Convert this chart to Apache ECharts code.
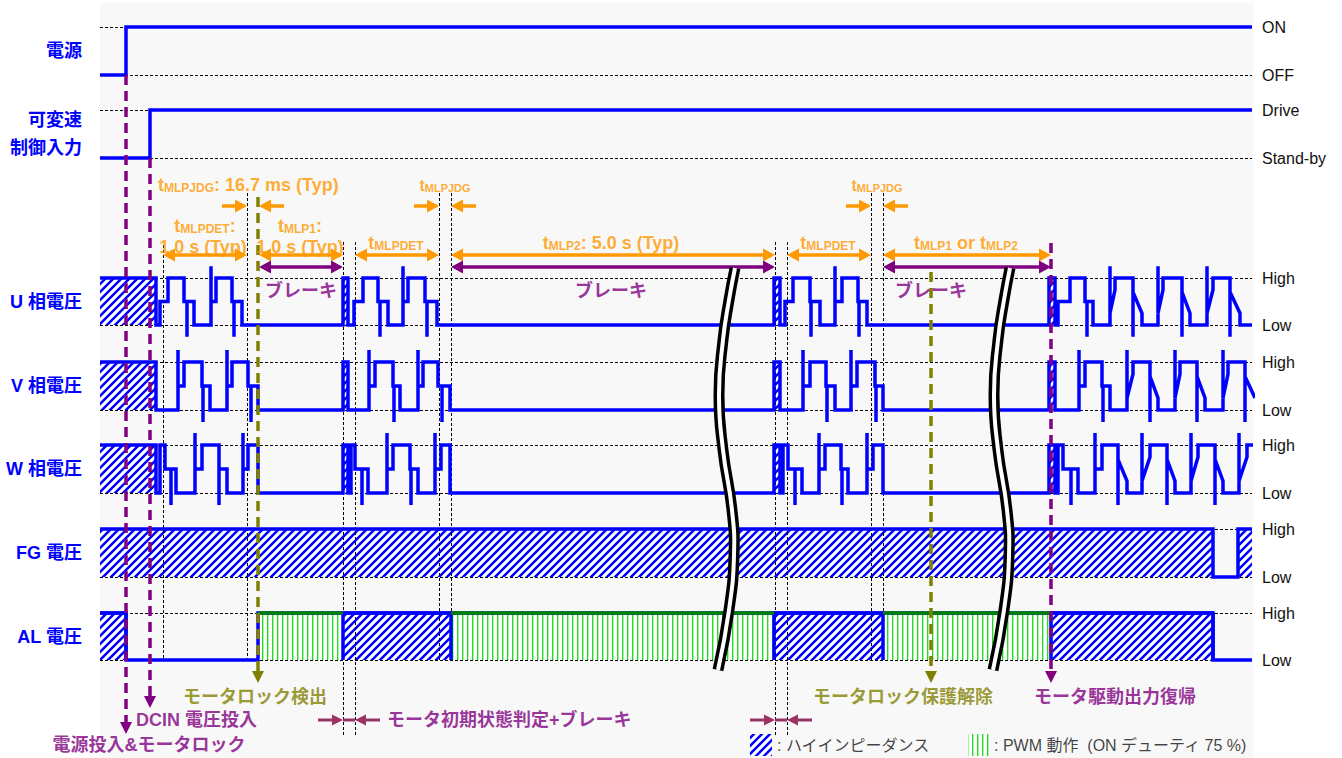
<!DOCTYPE html>
<html><head><meta charset="utf-8">
<script src="https://cdn.jsdelivr.net/npm/echarts@6/dist/echarts.min.js"></script>
<style>html,body{margin:0;padding:0;background:#fff}#chart{width:1342px;height:758px}</style>
</head><body><div id="chart"></div>
<script>
// ======================= DATA =======================
// time axis in diagram units (arbitrary)
const X_MIN = 100, X_MAX = 1252;

const rowNames = ['電源', '可変速\n制御入力', 'U 相電圧', 'V 相電圧', 'W 相電圧', 'FG 電圧', 'AL 電圧'];
const levelNames = [['OFF', 'ON'], ['Stand-by', 'Drive'], ['Low', 'High'], ['Low', 'High'], ['Low', 'High'], ['Low', 'High'], ['Low', 'High']];

// levels: 0 = low, 1 = high, 0.5 = intermediate step, 1.25 / -0.25 = spikes
const powerWave = [[100,0],[126,0],[126,1],[1252,1]];
const speedWave = [[100,0],[150,0],[150,1],[1252,1]];

const uWave = [
[100,1],[156,1],[156,0],[160,0],[160,0.5],[168,0.5],[168,1],[184,1],[184,0.5],[187,0.5],[187,-0.25],[187,0.5],[194,0.5],[194,0],
[211,0],[211,1.25],[211,0.5],[216,0.5],[216,1],[232,1],[232,0.5],[234,0.5],[234,-0.25],[234,0.5],[242,0.5],[242,0],
[343,0],[343,1],[348,1],[348,0],[354,0],[354,0.5],[363,0.5],[363,1],[378,1],[378,0.5],[380,0.5],[380,-0.25],[380,0.5],[388,0.5],[388,0],
[403,0],[403,1.25],[403,0.5],[408,0.5],[408,1],[425,1],[425,0.5],[427,0.5],[427,-0.25],[427,0.5],[437,0.5],[437,0],
[774,0],[774,1],[780,1],[780,0],[785,0],[785,0.5],[793,0.5],[793,1],[810,1],[810,0.5],[811,0.5],[811,-0.25],[811,0.5],[820,0.5],[820,0],
[835,0],[835,1.25],[835,0.5],[842,0.5],[842,1],[858,1],[858,0.5],[859,0.5],[859,-0.25],[859,0.5],[867,0.5],[867,0],
[1049,0],[1049,1],[1055,1],[1055,0],[1058,0],[1058,0.5],[1070,0.5],[1070,1],[1085,1],[1085,0.5],[1087,0.5],[1087,-0.25],[1087,0.5],[1093,0.5],[1093,0],
[1110,0],[1110,1.25],[1110,0.25],[1115,0.75],[1115,1],[1133,1],[1133,-0.25],[1133,0.7],[1142,0.25],[1142,0],
[1158,0],[1158,1.25],[1158,0.25],[1163,0.75],[1163,1],[1182,1],[1182,-0.25],[1182,0.7],[1190,0.25],[1190,0],
[1207,0],[1207,1.25],[1207,0.25],[1213,0.75],[1213,1],[1230,1],[1230,-0.25],[1230,0.7],[1240,0.25],[1240,0],[1252,0]
];

const vWave = [
[100,1],[156,1],[156,0],
[178,0],[178,1.25],[178,0.5],[184,0.5],[184,1],[202,1],[202,0.5],[203,0.5],[203,-0.25],[203,0.5],[210,0.5],[210,0],
[227,0],[227,1.25],[227,0.5],[232,0.5],[232,1],[248,1],[248,0.5],[251,0.5],[251,-0.25],[251,0.5],[258,0.5],[258,0],
[343,0],[343,1],[348,1],[348,0],
[369,0],[369,1.25],[369,0.5],[375,0.5],[375,1],[393,1],[393,0.5],[394,0.5],[394,-0.25],[394,0.5],[400,0.5],[400,0],
[418,0],[418,1.25],[418,0.5],[423,0.5],[423,1],[438,1],[438,0.5],[442,0.5],[442,-0.25],[442,0.5],[450,0.5],[450,0],
[774,0],[774,1],[780,1],[780,0],
[803,0],[803,1.25],[803,0.5],[810,0.5],[810,1],[826,1],[826,0.5],[827,0.5],[827,-0.25],[827,0.5],[835,0.5],[835,0],
[851,0],[851,1.25],[851,0.5],[857,0.5],[857,1],[875,1],[875,0.5],[876,0.5],[876,-0.25],[876,0.5],[883,0.5],[883,0],
[1049,0],[1049,1],[1055,1],[1055,0],
[1079,0],[1079,1.25],[1079,0.5],[1085,0.5],[1085,1],[1102,1],[1102,0.5],[1103,0.5],[1103,-0.25],[1103,0.5],[1110,0.5],[1110,0],
[1127,0],[1127,1.25],[1127,0.25],[1133,0.75],[1133,1],[1150,1],[1150,-0.25],[1150,0.7],[1158,0.25],[1158,0],
[1175,0],[1175,1.25],[1175,0.25],[1180,0.75],[1180,1],[1197,1],[1197,-0.25],[1197,0.7],[1205,0.25],[1205,0],
[1223,0],[1223,1.25],[1223,0.25],[1228,0.75],[1228,1],[1245,1],[1245,-0.25],[1245,0.7],[1255,0.25]
];

const wWave = [
[100,1],[156,1],[156,0],[160,0],[160,1],[165,1],[165,0.5],[171,0.5],[171,-0.25],[171,0.5],[176,0.5],[176,0],
[195,0],[195,1.25],[195,0.5],[202,0.5],[202,1],[219,1],[219,-0.25],[219,0.5],[227,0.5],[227,0],
[243,0],[243,1.25],[243,0.5],[248,0.5],[248,1],[258,1],[258,0],
[343,0],[343,1],[348,1],[348,0],[351,0],[351,1],[355,1],[355,0.5],[362,0.5],[362,-0.25],[362,0.5],[368,0.5],[368,0],
[387,0],[387,1.25],[387,0.5],[393,0.5],[393,1],[410,1],[410,0.5],[411,0.5],[411,-0.25],[411,0.5],[418,0.5],[418,0],
[435,0],[435,1.25],[435,0.5],[441,0.5],[441,1],[450,1],[450,0],
[774,0],[774,1],[780,1],[780,0],[783,0],[783,1],[788,1],[788,0.5],[795,0.5],[795,-0.25],[795,0.5],[802,0.5],[802,0],
[819,0],[819,1.25],[819,0.5],[825,0.5],[825,1],[841,1],[841,0.5],[842,0.5],[842,-0.25],[842,0.5],[848,0.5],[848,0],
[867,0],[867,1.25],[867,0.5],[873,0.5],[873,1],[883,1],[883,0],
[1049,0],[1049,1],[1055,1],[1055,0],[1058,0],[1058,1],[1063,1],[1063,0.5],[1071,0.5],[1071,-0.25],[1071,0.5],[1078,0.5],[1078,0],
[1095,0],[1095,1.25],[1095,0.5],[1102,0.5],[1102,1],[1118,1],[1118,-0.25],[1118,0.7],[1127,0.25],[1127,0],
[1142,0],[1142,1.25],[1142,0.25],[1150,0.75],[1150,1],[1167,1],[1167,-0.25],[1167,0.7],[1175,0.25],[1175,0],
[1191,0],[1191,1.25],[1191,0.25],[1198,0.75],[1198,1],[1215,1],[1215,-0.25],[1215,0.7],[1223,0.25],[1223,0],
[1239,0],[1239,1.25],[1239,0.25],[1247,0.75],[1247,1],[1253,1]
];

const fgWave = [[100,1],[1213,1],[1213,0],[1238,0],[1238,1],[1252,1]];
const alWave = [[100,1],[126,1],[126,0],[258,0],[258,1],[1213,1],[1213,0],[1252,0]];

// high-impedance (hatched) and PWM intervals
const phaseHiZ = [[100,156],[343,348],[774,780],[1049,1055]];
const fgHiZ = [[100,1213],[1238,1252]];
const alHiZ = [[100,126],[343,451],[774,883],[1051,1213]];
const alPwm = [[258,343],[451,774],[883,1051]];

// timing events
const guideTimes = [163,247,343,355,439,451,775,787,871,883];
const purpleEvents = [126,150,1051];
const oliveEvents = [258,931];
const detSpans = [[163,247],[259,343],[355,439],[451,775],[787,871],[883,1051]];   // orange double arrows
const brakeSpans = [[259,343],[451,775],[883,1051]];                                // purple double arrows
const jdgWindows = [[247,259],[439,451],[871,883]];                                 // tMLPJDG
const initWindows = [[343,355],[775,787]];                                          // 初期状態判定
const breakTimes = [726,1001];

// texts (anchor time, content)
const orangeTexts = [
  {t:158, txt:'{t|t}{s|MLPJDG}{t|: 16.7 ms (Typ)}', align:'left', row:'jdg'},
  {t:205, txt:'{t|t}{s|MLPDET}{t|:}', row:'l1'},
  {t:203, txt:'{t|1.0 s (Typ)}', row:'l2'},
  {t:300, txt:'{t|t}{s|MLP1}{t|:}', row:'l1'},
  {t:300, txt:'{t|1.0 s (Typ)}', row:'l2'},
  {t:396, txt:'{t|t}{s|MLPDET}', row:'lab'},
  {t:445, txt:'{u|t}{v|MLPJDG}', row:'jdg'},
  {t:611, txt:'{t|t}{s|MLP2}{t|: 5.0 s (Typ)}', row:'lab'},
  {t:828, txt:'{t|t}{s|MLPDET}', row:'lab'},
  {t:877, txt:'{u|t}{v|MLPJDG}', row:'jdg'},
  {t:966, txt:'{t|t}{s|MLP1}{t| or t}{s|MLP2}', row:'lab'}
];
const brakeTexts = [{t:301, txt:'ブレーキ'},{t:611, txt:'ブレーキ'},{t:931, txt:'ブレーキ'}];
const eventTexts = [
  {t:149, txt:'電源投入&モータロック', c:'purple', align:'center', row:'b3'},
  {t:136, txt:'DCIN 電圧投入', c:'purple', row:'b2'},
  {t:183, txt:'モータロック検出', c:'olive', row:'b1'},
  {t:387, txt:'モータ初期状態判定+ブレーキ', c:'purple', row:'b2'},
  {t:813, txt:'モータロック保護解除', c:'olive', row:'b1'},
  {t:1034, txt:'モータ駆動出力復帰', c:'purple', row:'b1'}
];
const legendTexts = [{t:777, txt:': ハイインピーダンス'},{t:994, txt:': PWM 動作  (ON デューティ 75 %)'}];

// ======================= LAYOUT / STYLE =======================
const FONT = "'Liberation Sans','Noto Sans CJK JP',sans-serif";
const BLUE = '#0000ff', ORANGE = '#ff9900', PURPLE = '#800080', OLIVE = '#808000', MAROON = '#993366', DKGREEN = '#008000';
const rowsLayout = [
  {top:27,bottom:75},{top:110,bottom:158},{top:278,bottom:325},{top:362,bottom:410},
  {top:445,bottom:493},{top:529,bottom:577},{top:613,bottom:660}];
const LY = {
  jdg:206, det:255, brake:267, init:720, brakeText:291,
  text:{jdg:185, l1:226, l2:247, lab:243, b1:697, b2:720, b3:745, leg:745},
  guideTop:[245,193,242,242,193,193,242,242,193,193],
  guideBottom:[660,660,735,735,660,660,735,735,660,660],
  purpleTop:[75,158,243], purpleTip:[734,708,683],
  oliveTop:[197,272], oliveTip:[683,683],
  inwardLen:25,
  breakShape:[[9,268],[3,300],[-3,340],[-7,395],[-3,450],[6,510],[8,555],[3,610],[-8,670]],
  legendBoxes:[[750,772,734,756,0],[968,990,734,756,1]]
};

function hatchCanvas(){
  const c=document.createElement('canvas'); c.width=8; c.height=8;
  const g=c.getContext('2d'); g.fillStyle='#fff'; g.fillRect(0,0,8,8);
  g.strokeStyle=BLUE; g.lineWidth=2.5;
  g.beginPath(); g.moveTo(-4,12); g.lineTo(12,-4); g.moveTo(-4,4); g.lineTo(4,-4); g.moveTo(4,12); g.lineTo(12,4); g.stroke();
  return c;
}
function pwmCanvas(){
  const c=document.createElement('canvas'); c.width=5; c.height=5;
  const g=c.getContext('2d'); g.fillStyle='#fff'; g.fillRect(0,0,5,5);
  g.fillStyle='#22dd22'; g.fillRect(2,0,1,5);
  g.fillStyle='#aaf0aa'; g.fillRect(3,0,1,5);
  return c;
}
const HATCH = {image:hatchCanvas(), repeat:'repeat'};
const PWM = {image:pwmCanvas(), repeat:'repeat'};

const chart = echarts.init(document.getElementById('chart'), null, {renderer:'svg', width:1342, height:758});

const grids=[], xAxes=[], yAxes=[], series=[];
const waves = [powerWave, speedWave, uWave, vWave, wWave, fgWave, alWave];

rowsLayout.forEach((r,i)=>{
  grids.push({left:100, right:90, top:r.top, height:r.bottom-r.top, outerBoundsMode:'none', containLabel:false});
  xAxes.push({type:'value', gridIndex:i, min:X_MIN, max:X_MAX, show:false});
  yAxes.push({type:'value', gridIndex:i, position:'right', min:0, max:1, interval:1,
    axisLine:{show:false}, axisTick:{show:false},
    axisLabel:{formatter:v=>levelNames[i][v>=0.5?1:0], color:'#111', fontSize:16, fontFamily:FONT, margin:10, showMinLabel:true, showMaxLabel:true},
    splitLine:{show:true, lineStyle:{color:'#000', width:1, type:[3,2]}}});
  yAxes.push({type:'value', gridIndex:i, position:'left', min:0, max:1,
    axisLine:{show:false}, axisTick:{show:false}, axisLabel:{show:false}, splitLine:{show:false},
    name:rowNames[i], nameLocation:'middle', nameGap:18, nameRotate:0, nameMoveOverlap:false,
    nameTextStyle:{color:BLUE, fontWeight:'bold', fontSize:18, fontFamily:FONT, align:'right', verticalAlign:'middle', lineHeight:28}});
});
// overlay grid for annotations
grids.push({left:100, right:90, top:0, bottom:0, outerBoundsMode:'none', containLabel:false});
xAxes.push({type:'value', gridIndex:7, min:X_MIN, max:X_MAX, show:false});
yAxes.push({type:'value', gridIndex:7, min:0, max:758, inverse:true, show:false});
const OX = 7, OY = 14;

// ---------- region fills ----------
function fillSeries(row, data, fill, z){
  return {type:'custom', xAxisIndex:row, yAxisIndex:row*2, z:z||1, silent:true, data:data,
    renderItem:(p,api)=>{
      const a=api.coord([api.value(0),1]), b=api.coord([api.value(1),0]);
      return {type:'rect', shape:{x:a[0], y:a[1], width:b[0]-a[0], height:b[1]-a[1]}, style:{fill:fill}};
    }};
}
[2,3,4].forEach(r=>series.push(fillSeries(r, phaseHiZ, HATCH)));
series.push(fillSeries(5, fgHiZ, HATCH));
series.push(fillSeries(6, alHiZ, HATCH));
series.push(fillSeries(6, alPwm, PWM));

// ---------- signal lines ----------
waves.forEach((w,i)=>{
  series.push({type:'line', xAxisIndex:i, yAxisIndex:i*2, data:w, z:3, clip:false, symbol:'none', silent:true,
    lineStyle:{color:BLUE, width:3.5, cap:'butt', join:'miter'}});
});

// AL region edges (blue for hi-Z, green top for PWM)
series.push({type:'custom', xAxisIndex:6, yAxisIndex:12, z:4, silent:true,
  data: alHiZ.map(s=>[s[0],s[1],0]).concat(alPwm.map(s=>[s[0],s[1],1])),
  renderItem:(p,api)=>{
    const t1=api.value(0), t2=api.value(1), k=api.value(2);
    const a=api.coord([t1,1]), b=api.coord([t2,0]);
    const ch=[];
    if(k===1){
      ch.push({type:'line', shape:{x1:a[0],y1:a[1],x2:b[0],y2:a[1]}, style:{stroke:DKGREEN,lineWidth:3.5}});
    } else {
      ch.push({type:'line', shape:{x1:a[0],y1:a[1],x2:b[0],y2:a[1]}, style:{stroke:BLUE,lineWidth:3.5}});
      if(t1>X_MIN) ch.push({type:'line', shape:{x1:a[0],y1:a[1],x2:a[0],y2:b[1]}, style:{stroke:BLUE,lineWidth:3.5}});
      ch.push({type:'line', shape:{x1:b[0],y1:a[1],x2:b[0],y2:b[1]}, style:{stroke:BLUE,lineWidth:3.5}});
    }
    return {type:'group', children:ch};
  }});

// ---------- guides ----------
series.push({type:'custom', xAxisIndex:OX, yAxisIndex:OY, z:2, silent:true,
  data: guideTimes.map((t,i)=>[t, LY.guideTop[i], LY.guideBottom[i]]),
  renderItem:(p,api)=>{
    const a=api.coord([api.value(0),api.value(1)]), b=api.coord([api.value(0),api.value(2)]);
    const x=Math.round(a[0])+0.5;
    return {type:'line', shape:{x1:x,y1:a[1],x2:x,y2:b[1]}, style:{stroke:'#000',lineWidth:1,lineDash:[3,2]}};
  }});

// ---------- event markers ----------
function markerSeries(times, tops, tips, color){
  return {type:'custom', xAxisIndex:OX, yAxisIndex:OY, z:5, silent:true,
    data: times.map((t,i)=>[t, tops[i], tips[i]]),
    renderItem:(p,api)=>{
      const a=api.coord([api.value(0),api.value(1)]), b=api.coord([api.value(0),api.value(2)]);
      const x=a[0];
      return {type:'group', children:[
        {type:'line', shape:{x1:x,y1:a[1],x2:x,y2:b[1]-10}, style:{stroke:color,lineWidth:3.5,lineDash:[10,6]}},
        {type:'polygon', shape:{points:[[x,b[1]],[x-6,b[1]-12],[x+6,b[1]-12]]}, style:{fill:color}}
      ]};
    }};
}
series.push(markerSeries(purpleEvents, LY.purpleTop, LY.purpleTip, PURPLE));
series.push(markerSeries(oliveEvents, LY.oliveTop, LY.oliveTip, OLIVE));

// ---------- arrows ----------
function arrowSeries(data, color, lw, hl, hw){
  return {type:'custom', xAxisIndex:OX, yAxisIndex:OY, z:5, silent:true, data:data,
    renderItem:(p,api)=>{
      const p1=api.coord([api.value(0),api.value(2)]), p2=api.coord([api.value(1),api.value(2)]);
      const hs=api.value(3), he=api.value(4);
      const d=(p2[0]>=p1[0])?1:-1, y=p1[1];
      const ch=[{type:'line', shape:{x1:p1[0]+(hs?d*hl*0.8:0), y1:y, x2:p2[0]-(he?d*hl*0.8:0), y2:y}, style:{stroke:color,lineWidth:lw}}];
      if(he) ch.push({type:'polygon', shape:{points:[[p2[0],y],[p2[0]-d*hl,y-hw],[p2[0]-d*hl,y+hw]]}, style:{fill:color}});
      if(hs) ch.push({type:'polygon', shape:{points:[[p1[0],y],[p1[0]+d*hl,y-hw],[p1[0]+d*hl,y+hw]]}, style:{fill:color}});
      return {type:'group', children:ch};
    }};
}
const orangeArrows = detSpans.map(s=>[s[0],s[1],LY.det,1,1])
  .concat(jdgWindows.flatMap(s=>[[s[0]-LY.inwardLen,s[0],LY.jdg,0,1],[s[1]+LY.inwardLen,s[1],LY.jdg,0,1]]));
series.push(arrowSeries(orangeArrows, ORANGE, 3.5, 12, 6.5));
series.push(arrowSeries(brakeSpans.map(s=>[s[0],s[1],LY.brake,1,1]), PURPLE, 3.5, 12, 6.5));
const initArrows = initWindows.flatMap(s=>[[s[0]-LY.inwardLen,s[0],LY.init,0,1],[s[1]+LY.inwardLen,s[1],LY.init,0,1],[s[0],s[1],LY.init,0,0]]);
series.push(arrowSeries(initArrows, MAROON, 3, 11, 5.5));

// ---------- break marks ----------
series.push({type:'custom', xAxisIndex:OX, yAxisIndex:OY, z:7, silent:true,
  data: breakTimes.map(t=>[t,0]),
  renderItem:(p,api)=>{
    const t=api.value(0);
    const pts=LY.breakShape.map(([dx,y])=>{const c=api.coord([t,y]); return [c[0]+dx,c[1]];});
    return {type:'group', children:[
      {type:'polyline', shape:{points:pts, smooth:0.5}, style:{stroke:'#000', lineWidth:11, fill:null}},
      {type:'polyline', shape:{points:pts, smooth:0.5}, style:{stroke:'#fff', lineWidth:4, fill:null}}
    ]};
  }});

// ---------- legend boxes ----------
series.push({type:'custom', xAxisIndex:OX, yAxisIndex:OY, z:5, silent:true,
  data: LY.legendBoxes,
  renderItem:(p,api)=>{
    const a=api.coord([api.value(0),api.value(2)]), b=api.coord([api.value(1),api.value(3)]);
    return {type:'rect', shape:{x:a[0],y:a[1],width:b[0]-a[0],height:b[1]-a[1]}, style:{fill: api.value(4)===1?PWM:HATCH}};
  }});

// ---------- texts ----------
const RICH = {
  t:{fontSize:18, fontWeight:'bold', color:ORANGE, fontFamily:FONT, lineHeight:18},
  s:{fontSize:12, fontWeight:'bold', color:ORANGE, fontFamily:FONT, lineHeight:11, verticalAlign:'bottom'},
  u:{fontSize:16, fontWeight:'bold', color:ORANGE, fontFamily:FONT, lineHeight:17},
  v:{fontSize:11, fontWeight:'bold', color:ORANGE, fontFamily:FONT, lineHeight:10, verticalAlign:'bottom'}
};
const colorMap = {purple:PURPLE, olive:OLIVE};
const textData = [];
orangeTexts.forEach(o=>textData.push({value:[o.t, LY.text[o.row]], txt:o.txt,
  label:{align:o.align||'center', color:ORANGE, fontSize:18, fontWeight:'bold', lineHeight:18, rich:RICH}}));
brakeTexts.forEach(o=>textData.push({value:[o.t, LY.brakeText], txt:o.txt,
  label:{align:'center', color:PURPLE, fontSize:18, fontWeight:'bold'}}));
eventTexts.forEach(o=>textData.push({value:[o.t, LY.text[o.row]], txt:o.txt,
  label:{align:o.align||'left', color:colorMap[o.c], fontSize:18, fontWeight:'bold'}}));
legendTexts.forEach(o=>textData.push({value:[o.t, LY.text.leg], txt:o.txt,
  label:{align:'left', color:'#111', fontSize:16, fontWeight:'normal'}}));
series.push({type:'scatter', xAxisIndex:OX, yAxisIndex:OY, z:6, silent:true, clip:false,
  symbolSize:1, itemStyle:{color:'rgba(0,0,0,0)'},
  label:{show:true, position:'inside', verticalAlign:'middle', fontFamily:FONT, formatter:p=>p.data.txt},
  data:textData});

chart.setOption({
  animation:false,
  backgroundColor:'#ffffff',
  graphic:[{type:'rect', z:-100, silent:true, shape:{x:100,y:3,width:1153,height:755}, style:{fill:'#f8f8f8'}}],
  grid:grids, xAxis:xAxes, yAxis:yAxes, series:series
});
</script></body></html>
